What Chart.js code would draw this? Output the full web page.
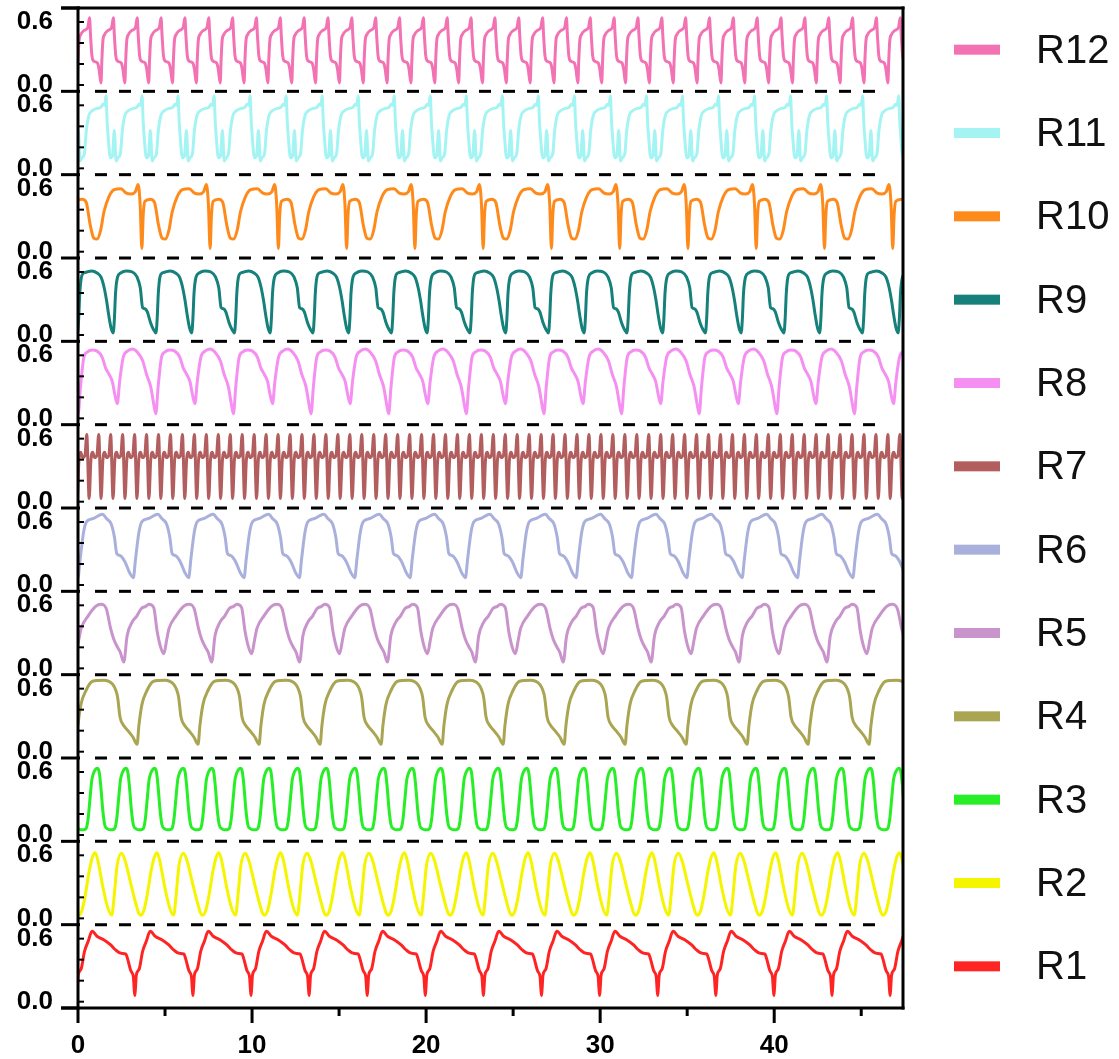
<!DOCTYPE html>
<html>
<head>
<meta charset="utf-8">
<title>R1-R12 waveforms</title>
<script src="https://cdn.jsdelivr.net/npm/chart.js@4.4.1/dist/chart.umd.min.js"></script>
<style>
  html, body { margin: 0; padding: 0; background: #fff; }
  canvas { display: block; }
</style>
</head>
<body>
<canvas id="wave" width="1119" height="1059"></canvas>
<script>
// ---- data ----
const X_MAX = 47.4;
const Y_MIN = -0.06;
const Y_MAX = 0.733;

const names  = ["R1", "R2", "R3", "R4", "R5", "R6", "R7", "R8", "R9", "R10", "R11", "R12"];
const colors = ["#ff2424", "#f5f500", "#27ee27", "#aaa552", "#c993cc", "#aab0dc",
                "#b35e5e", "#f590f2", "#16807b", "#ff8a1c", "#a4f4f4", "#f272b4"];

// one repeat of each trace: [fraction of repeat, value]
const r1Shape  = [[0,0.67],[0.09,0.62],[0.2,0.59],[0.32,0.54],[0.41,0.49],[0.5,0.46],[0.58,0.455],
                  [0.61,0.41],[0.67,0.29],[0.71,0.24],[0.725,0.12],[0.735,0.06],[0.745,0.12],
                  [0.76,0.25],[0.81,0.31],[0.87,0.48],[0.93,0.57],[1,0.67]];
const r2Shape  = [[0,0.03],[0.05,0.07],[0.1,0.2],[0.17,0.45],[0.22,0.58],[0.267,0.625],[0.31,0.55],
                  [0.39,0.3],[0.47,0.1],[0.535,0.03],[0.575,0.22],[0.62,0.5],[0.695,0.62],[0.75,0.55],
                  [0.83,0.36],[0.91,0.17],[0.97,0.05],[1,0.03]];
const r3Shape  = [[0,0.05],[0.08,0.06],[0.15,0.15],[0.22,0.35],[0.28,0.52],[0.33,0.58],[0.4,0.62],
                  [0.47,0.635],[0.54,0.6],[0.6,0.45],[0.66,0.25],[0.73,0.1],[0.82,0.06],[0.92,0.05],[1,0.05]];
const r4Shape  = [[0,0.07],[0.03,0.25],[0.08,0.45],[0.16,0.58],[0.27,0.67],[0.45,0.68],[0.6,0.64],
                  [0.68,0.52],[0.72,0.33],[0.78,0.25],[0.85,0.2],[0.93,0.14],[1,0.07]];
const r5Shape  = [[0,0.06],[0.038,0.31],[0.095,0.44],[0.15,0.5],[0.2,0.57],[0.25,0.59],[0.285,0.61],
                  [0.34,0.58],[0.38,0.35],[0.42,0.2],[0.455,0.14],[0.49,0.28],[0.515,0.38],[0.595,0.5],
                  [0.68,0.59],[0.74,0.61],[0.8,0.57],[0.85,0.38],[0.885,0.28],[0.93,0.2],[0.96,0.155],[1,0.06]];
const r6Shape  = [[0,0.07],[0.04,0.25],[0.1,0.5],[0.15,0.6],[0.25,0.63],[0.3,0.64],[0.44,0.674],
                  [0.52,0.63],[0.6,0.58],[0.66,0.45],[0.7,0.3],[0.76,0.28],[0.85,0.22],[0.93,0.12],[1,0.07]];
const r7Shape  = [[0,0.44],[0.15,0.64],[0.35,0.03],[0.5,0.4],[0.65,0.47],[0.8,0.42],[1,0.44]];
const r8Shape  = [[0,0.044],[0.03,0.3],[0.073,0.58],[0.116,0.63],[0.18,0.65],[0.245,0.64],[0.31,0.58],
                  [0.353,0.48],[0.397,0.42],[0.44,0.35],[0.474,0.22],[0.504,0.14],[0.534,0.35],
                  [0.58,0.58],[0.634,0.64],[0.7,0.66],[0.763,0.63],[0.83,0.55],[0.88,0.42],
                  [0.935,0.3],[0.97,0.15],[1,0.044]];
const r9Shape  = [[0,0.02],[0.015,0.15],[0.03,0.4],[0.05,0.55],[0.08,0.59],[0.12,0.6],[0.18,0.61],
                  [0.25,0.59],[0.3,0.55],[0.34,0.45],[0.37,0.33],[0.4,0.18],[0.43,0.06],[0.455,0.02],
                  [0.47,0.15],[0.485,0.4],[0.51,0.55],[0.55,0.59],[0.62,0.61],[0.7,0.6],[0.76,0.55],
                  [0.8,0.45],[0.83,0.26],[0.86,0.25],[0.89,0.22],[0.93,0.12],[0.97,0.05],[1,0.02]];
const r10Shape = [[0,0.12],[0.05,0.2],[0.1,0.38],[0.17,0.52],[0.25,0.59],[0.35,0.6],[0.42,0.56],
                  [0.5,0.55],[0.56,0.57],[0.6,0.64],[0.63,0.45],[0.655,0.03],[0.675,0.35],[0.7,0.48],
                  [0.78,0.5],[0.84,0.47],[0.9,0.25],[0.95,0.13],[1,0.12]];
const r11Shape = [[0,0.69],[0.03,0.45],[0.06,0.3],[0.12,0.1],[0.18,0.12],[0.23,0.36],[0.28,0.07],
                  [0.33,0.1],[0.4,0.14],[0.45,0.35],[0.52,0.5],[0.62,0.55],[0.75,0.57],[0.85,0.58],
                  [0.92,0.61],[0.96,0.6],[1,0.69]];
const r12Shape = [[0,0.02],[0.04,0.25],[0.08,0.42],[0.15,0.48],[0.3,0.52],[0.45,0.55],[0.52,0.64],
                  [0.56,0.48],[0.62,0.28],[0.68,0.23],[0.85,0.21],[0.92,0.15],[1,0.02]];

const shapes  = [r1Shape, r2Shape, r3Shape, r4Shape, r5Shape, r6Shape,
                 r7Shape, r8Shape, r9Shape, r10Shape, r11Shape, r12Shape];
// length of one repeat along x, and where the first repeat begins
const periods = [3.338, 3.555, 1.645, 3.505, 5.05, 3.18, 0.687, 4.46, 4.51, 3.922, 2.07, 1.37];
const starts  = [0.81, 0.04, 0.33, -0.11, 2.63, 0.0, 0.4, 0.01, -0.03, 1.1, -0.46, -0.05];

const xTickValues = [0, 10, 20, 30, 40];
const xMinorStep = 5;
const rowTicks = [0, 0.2, 0.4, 0.6];
const rowLabels = [0, 0.6];

// lay the repeats end to end across the whole x range
function buildSeries(shape, period, start) {
  const pts = [];
  let k = -Math.ceil(start / period) - 1;
  for (; start + k * period <= X_MAX + period; k++) {
    shape.forEach(([p, v], i) => {
      if (i === shape.length - 1) return;
      const x = start + (k + p) * period;
      if (x >= -period && x <= X_MAX + period) pts.push({ x: x, y: v });
    });
  }
  return pts;
}

const LABEL_FONT = '"Liberation Sans", Arial, sans-serif';

// keep the label overflow from pushing the plot area around
function noPadding(s) {
  s.paddingTop = 0; s.paddingBottom = 0; s.paddingLeft = 0; s.paddingRight = 0;
}

const datasets = names.map((n, i) => ({
  label: n,
  data: buildSeries(shapes[i], periods[i], starts[i]),
  yAxisID: "y" + i,
  borderColor: colors[i],
  backgroundColor: colors[i],
  borderWidth: 3,
  pointRadius: 0,
  cubicInterpolationMode: "monotone",
  fill: false
}));

const scales = {
  x: {
    type: "linear",
    min: 0,
    max: X_MAX,
    afterFit: s => { s.height = 51; noPadding(s); },
    afterBuildTicks: s => { s.ticks = xTickValues.map(v => ({ value: v })); },
    grid: { display: false, drawTicks: false },
    border: { display: false },
    ticks: {
      color: "#000",
      padding: 22,
      maxRotation: 0,
      autoSkip: false,
      font: { family: LABEL_FONT, size: 26, weight: "bold" }
    }
  }
};

// first declared row ends up at the bottom of the stack
names.forEach((n, i) => {
  scales["y" + i] = {
    type: "linear",
    position: "left",
    stack: "rows",
    stackWeight: 1,
    min: Y_MIN,
    max: Y_MAX,
    afterFit: s => { s.width = 78; noPadding(s); },
    afterBuildTicks: s => { s.ticks = rowLabels.map(v => ({ value: v })); },
    grid: { display: false, drawTicks: false },
    border: { display: false },
    ticks: {
      color: "#000",
      padding: 25,
      callback: v => Number(v).toFixed(1),
      font: { family: LABEL_FONT, size: 26, weight: "bold" }
    }
  };
});

/* ===== axes, separators and tick marks ===== */
const framePlugin = {
  id: "frame",
  afterDatasetsDraw(chart) {
    const { ctx, chartArea: a, scales: sc } = chart;
    const line = (x1, y1, x2, y2) => { ctx.beginPath(); ctx.moveTo(x1, y1); ctx.lineTo(x2, y2); ctx.stroke(); };
    ctx.save();
    ctx.strokeStyle = "#000";
    ctx.lineCap = "butt";

    const rows = names.map((n, i) => sc["y" + i]);

    // dashed lines between rows
    ctx.lineWidth = 3;
    ctx.setLineDash([12, 12]);
    rows.forEach(s => {
      if (s.top > a.top + 2) line(a.left + 17, s.top, a.right - 17, s.top);
    });
    ctx.setLineDash([]);

    // long ticks at every row edge
    rows.forEach(s => line(a.left - 17, s.top, a.left + 2, s.top));
    line(a.left - 17, a.bottom, a.left, a.bottom);

    // small inner ticks on each row
    ctx.lineWidth = 2;
    rows.forEach(s => rowTicks.forEach(v => {
      const y = s.getPixelForValue(v);
      line(a.left, y, a.left + 6, y);
    }));

    // frame
    ctx.lineWidth = 3;
    line(a.left - 17, a.top, a.right + 1.5, a.top);
    line(a.left - 17, a.bottom, a.right + 1.5, a.bottom);
    line(a.left, a.top - 1.5, a.left, a.bottom + 1.5);
    line(a.right, a.top - 1.5, a.right, a.bottom + 1.5);

    // x ticks: long at labels, short between
    const xs = sc.x;
    for (let v = 0; v <= X_MAX; v += xMinorStep) {
      const px = xs.getPixelForValue(v);
      const len = xTickValues.includes(v) ? 15 : 8;
      line(px, a.bottom, px, a.bottom + len);
    }
    ctx.restore();
  }
};

/* ===== legend, one entry beside each row ===== */
const legendPlugin = {
  id: "rowLegend",
  afterDraw(chart) {
    const { ctx, scales: sc } = chart;
    ctx.save();
    ctx.font = "40px " + LABEL_FONT;
    ctx.textBaseline = "middle";
    ctx.textAlign = "left";
    names.forEach((n, i) => {
      const s = sc["y" + i];
      const cy = (s.top + s.bottom) / 2;
      ctx.fillStyle = colors[i];
      ctx.fillRect(954, cy - 5, 46, 10);
      ctx.fillStyle = "#111";
      ctx.fillText(n, 1036, cy + 2);
    });
    ctx.restore();
  }
};

new Chart(document.getElementById("wave"), {
  type: "line",
  data: { datasets: datasets },
  options: {
    responsive: false,
    animation: false,
    events: [],
    layout: { padding: { top: 8, right: 216, bottom: 0, left: 0 } },
    plugins: { legend: { display: false }, tooltip: { enabled: false } },
    scales: scales
  },
  plugins: [framePlugin, legendPlugin]
});
</script>
</body>
</html>
